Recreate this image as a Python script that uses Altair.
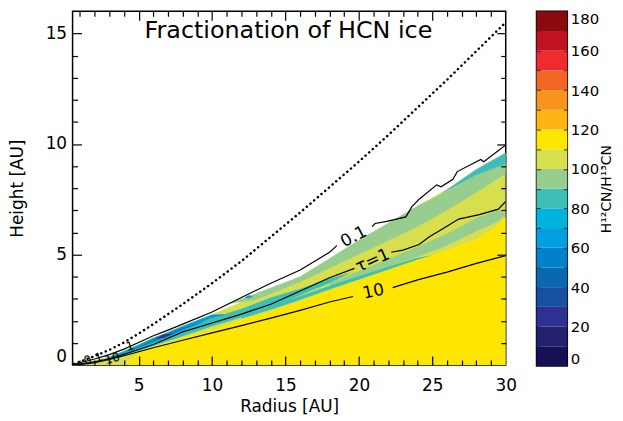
import altair as alt
import pandas as pd

# ---------------- data (radius / height in AU) ----------------
R_TOP = [0.6, 1, 2, 3, 4, 5, 6, 7, 8, 10, 12, 14, 16, 18, 20, 22, 24, 26, 28, 30]
H_TOP = [0.03, 0.08, 0.22, 0.4, 0.65, 0.95, 1.25, 1.5, 1.78, 2.3, 2.85, 3.45, 4.0, 4.8, 5.65, 6.4, 7.2, 7.95, 8.85, 9.6]

R_YEL = [3.9, 4.3, 5, 6, 7, 8, 10, 12, 14, 16, 18, 20, 22, 24, 26, 28, 29, 30]
H_YEL = [0, 0.2, 0.55, 0.8, 1.0, 1.25, 1.6, 2.05, 2.45, 2.9, 3.4, 3.85, 4.3, 4.75, 5.2, 5.7, 6.1, 6.7]

R_GRN = [11, 13, 16, 20, 24, 26, 28, 30]
LO_GRN = [2.75, 2.95, 3.75, 5.0, 6.25, 7.0, 7.8, 8.65]
HI_GRN = [2.75, 3.25, 4.0, 5.65, 7.2, 7.85, 8.6, 9.15]

R_TEAL_TOP = [25.5, 28, 30]
LO_TEAL_TOP = [7.7, 8.6, 9.1]
HI_TEAL_TOP = [7.7, 8.85, 9.6]

R_TEAL_MID = [3.5, 5, 8, 10, 12, 14, 16, 18, 19.5]
LO_TEAL_MID = [0.38, 0.65, 1.3, 1.75, 2.15, 2.6, 3.15, 3.7, 4.2]
HI_TEAL_MID = [0.4, 0.8, 1.56, 2.13, 2.55, 3.05, 3.45, 3.9, 4.2]

R_GRN_LOW = [18, 20, 22, 24, 26, 28, 29.5, 30]
LO_GRN_LOW = [3.55, 4.0, 4.45, 4.9, 5.4, 6.05, 6.5, 6.8]
HI_GRN_LOW = [3.7, 4.25, 4.8, 5.35, 5.95, 6.65, 7.0, 6.85]

R_TEAL_LOW = [12, 14, 16, 18, 20, 22, 24, 25]
LO_TEAL_LOW = [2.1, 2.5, 2.95, 3.42, 3.87, 4.32, 4.77, 4.95]
HI_TEAL_LOW = [2.2, 2.65, 3.12, 3.58, 4.02, 4.45, 4.85, 4.95]

R_CYAN = [2.5, 3, 4, 5, 6, 7, 8, 9, 10, 10.8]
LO_CYAN = [0.2, 0.28, 0.5, 0.76, 1.02, 1.28, 1.56, 1.84, 2.13, 2.25]
HI_CYAN = [0.2, 0.36, 0.62, 0.92, 1.22, 1.48, 1.76, 2.02, 2.28, 2.3]

R_BLUE = [4.5, 6, 8, 9.5]
LO_BLUE = [0.65, 1.05, 1.6, 1.95]
HI_BLUE = [0.65, 1.15, 1.7, 1.95]

R_PURP = [6.1, 6.7, 7.4]
LO_PURP = [1.2, 1.22, 1.42]
HI_PURP = [1.2, 1.38, 1.42]

R_SPOT = [12.2, 12.5, 12.8]
LO_SPOT = [3.05, 3.02, 3.1]
HI_SPOT = [3.05, 3.15, 3.1]

R_C01_A = [0.6, 1, 2, 3, 4, 5, 6, 7, 8, 10, 12, 14, 16, 18, 18.5]
H_C01_A = [0.03, 0.1, 0.27, 0.47, 0.72, 1.02, 1.32, 1.58, 1.85, 2.4, 3.05, 3.7, 4.3, 5.1, 5.4]
R_C01_B = [20.9, 21.1, 21.9, 23.2, 23.6, 24.1, 25.3, 25.6, 26.4, 26.7, 28.3, 28.5, 30]
H_C01_B = [6.26, 6.4, 6.5, 6.7, 7.15, 7.5, 8.15, 8.06, 8.4, 8.75, 9.3, 9.2, 9.95]

R_TAU_A = [0.6, 1, 2, 3, 4, 5, 6, 8, 10, 12, 14, 16, 18, 19.7]
H_TAU_A = [0.0, 0.04, 0.14, 0.28, 0.48, 0.7, 0.93, 1.5, 1.9, 2.3, 2.75, 3.35, 3.95, 4.37]
R_TAU_B = [22.2, 23, 24.1, 24.8, 25.8, 26.8, 28.2, 29.5, 30]
H_TAU_B = [5.1, 5.2, 5.45, 5.8, 6.2, 6.6, 6.8, 7.05, 7.4]

R_C10_A = [0.6, 1, 2, 3, 4, 5, 6, 8, 10, 12, 14, 16, 18, 19.6]
H_C10_A = [0.0, 0.02, 0.1, 0.25, 0.42, 0.6, 0.78, 1.12, 1.45, 1.78, 2.12, 2.47, 2.85, 3.1]
R_C10_B = [22.3, 24, 26, 28, 30]
H_C10_B = [3.5, 3.85, 4.2, 4.6, 4.95]

R_DOT = [0.6, 1, 2, 3, 4, 5, 6, 7, 8, 10, 12, 14, 16, 18, 20, 22, 24, 26, 28, 30]
H_DOT = [0.05, 0.15, 0.4, 0.68, 1.02, 1.42, 1.85, 2.3, 2.75, 3.7, 4.7, 5.8, 6.9, 8.05, 9.2, 10.4, 11.65, 12.9, 14.2, 15.5]

BIG_LBL = ["0.1", "τ=1", "10"]
BIG_R = [19.65, 20.95, 21.0]
BIG_H = [5.8, 4.72, 3.32]
BIG_ANG = [332, 336, 348]
SMALL_LBL = ["0.1", "10", "1"]
SMALL_R = [1.9, 3.2, 4.4]
SMALL_H = [0.28, 0.3, 0.85]
SMALL_ANG = [345, 345, 345]

TITLE = ["Fractionation of HCN ice"]
TITLE_R = [15.2]
TITLE_H = [15.1]

CB_LO = list(range(0, 180, 10))
CB_HI = list(range(10, 190, 10))
CB_COLORS = ["#150f53", "#232070", "#2e3192", "#1750a0", "#0868b0", "#0082c8",
             "#00a0e0", "#00b3dd", "#3dbfb8", "#97cd8f", "#d7df4f", "#ffe600",
             "#fdb515", "#f7941d", "#f26522", "#ef2b2d", "#c1121f", "#8b0a0f"]
CB_TICKS = list(range(0, 181, 20))

X_MAJOR = [5, 10, 15, 20, 25, 30]
Y_MAJOR = [0, 5, 10, 15]

# ---------------- chart ----------------
FONT = "DejaVu Sans"
W, H = 436, 356
CBW, CBH = 31, 357

xs = alt.Scale(domain=[0.5, 30], nice=False, zero=False)
ys = alt.Scale(domain=[0, 16], nice=False, zero=False)

TICK_SIZE = {"condition": {"test": "datum.value % 5 === 0", "value": 9}, "value": 5}


def tick_axis(orient, offset, values):
    return alt.Axis(orient=orient, offset=offset, values=values, labels=False,
                    domain=False, grid=False, title=None, tickSize=TICK_SIZE,
                    tickColor="black", tickWidth=1.2, zindex=1)


def band(r, lo, hi, color, xaxis=None, yaxis=None):
    df = pd.DataFrame({"r": r, "lo": lo, "hi": hi})
    return alt.Chart(df).mark_area(color=color, clip=True).encode(
        x=alt.X("r:Q", scale=xs, axis=xaxis),
        y=alt.Y("lo:Q", scale=ys, axis=yaxis),
        y2="hi:Q",
    )


def line(segs, xaxis=None, yaxis=None, **kw):
    frames = []
    for i, (r, h) in enumerate(segs):
        frames.append(pd.DataFrame({"r": r, "h": h, "seg": i}))
    df = pd.concat(frames, ignore_index=True)
    return alt.Chart(df).mark_line(clip=True, **kw).encode(
        x=alt.X("r:Q", scale=xs, axis=xaxis),
        y=alt.Y("h:Q", scale=ys, axis=yaxis),
        detail="seg:N",
        order="r:Q",
    )


x_lab_axis = alt.Axis(values=X_MAJOR, ticks=False, tickSize=0, domain=False, grid=False,
                      labelFontSize=17, labelPadding=13, labelFlush=False, labelColor="black",
                      title="Radius [AU]", titleFontSize=17, titleFontWeight="normal",
                      titleColor="black", titlePadding=5)
y_lab_axis = alt.Axis(values=Y_MAJOR, ticks=False, tickSize=0, domain=False, grid=False,
                      labelFontSize=17, labelPadding=6, labelFlush=True, labelColor="black",
                      title="Height [AU]", titleFontSize=17, titleFontWeight="normal",
                      titleColor="black", titleX=-46)

zeros = [0] * len(R_TOP)
yel_zero = [0] * len(R_YEL)

layers = [
    band(R_TOP, zeros, H_TOP, "#d7df4f", x_lab_axis, y_lab_axis),
    band(R_YEL, yel_zero, H_YEL, "#ffe600"),
    band(R_GRN, LO_GRN, HI_GRN, "#97cd8f"),
    band(R_TEAL_TOP, LO_TEAL_TOP, HI_TEAL_TOP, "#3dbfb8"),
    band(R_TEAL_MID, LO_TEAL_MID, HI_TEAL_MID, "#3dbfb8"),
    band(R_GRN_LOW, LO_GRN_LOW, HI_GRN_LOW, "#97cd8f"),
    band(R_TEAL_LOW, LO_TEAL_LOW, HI_TEAL_LOW, "#3dbfb8"),
    band(R_CYAN, LO_CYAN, HI_CYAN, "#00a0e0"),
    band(R_BLUE, LO_BLUE, HI_BLUE, "#0082c8"),
    band(R_PURP, LO_PURP, HI_PURP, "#2e3192"),
    band(R_SPOT, LO_SPOT, HI_SPOT, "#00a0e0"),
    line([(R_DOT, H_DOT)], strokeDash=[0.1, 4.8], strokeCap="round", strokeWidth=2.5, color="black"),
    line([(R_C01_A, H_C01_A), (R_C01_B, H_C01_B)],
         tick_axis("top", -H, list(range(1, 30))), tick_axis("right", -W, list(range(1, 16))),
         color="black", strokeWidth=1.2),
    line([(R_TAU_A, H_TAU_A), (R_TAU_B, H_TAU_B)],
         tick_axis("bottom", -H, list(range(1, 30))), tick_axis("left", -W, list(range(1, 16))),
         color="black", strokeWidth=1.2),
    line([(R_C10_A, H_C10_A), (R_C10_B, H_C10_B)], color="black", strokeWidth=1.2),
]

big_df = pd.DataFrame({"r": BIG_R, "h": BIG_H, "t": BIG_LBL, "a": BIG_ANG})
small_df = pd.DataFrame({"r": SMALL_R, "h": SMALL_H, "t": SMALL_LBL, "a": SMALL_ANG})
title_df = pd.DataFrame({"r": TITLE_R, "h": TITLE_H, "t": TITLE})


def text_layer(df, size, with_angle=True):
    enc = dict(
        x=alt.X("r:Q", scale=xs, axis=None),
        y=alt.Y("h:Q", scale=ys, axis=None),
        text="t:N",
    )
    if with_angle:
        enc["angle"] = alt.Angle("a:Q", scale=None)
    return alt.Chart(df).mark_text(fontSize=size, color="black", align="center",
                                   baseline="middle", font=FONT).encode(**enc)


layers += [text_layer(big_df, 17), text_layer(small_df, 12), text_layer(title_df, 24, False)]

main = alt.layer(*layers).resolve_axis(x="independent", y="independent").properties(
    width=W, height=H)

cb_df = pd.DataFrame({"lo": CB_LO, "hi": CB_HI, "col": CB_COLORS})
cb_scale = alt.Scale(domain=[0, 180], nice=False)
cb_x = alt.Scale(domain=[0, 1], nice=False)
cb_axis = alt.Axis(orient="right", values=CB_TICKS, ticks=False, tickSize=0, domain=False,
                   grid=False, labelFontSize=15, labelPadding=3, labelFlush=True,
                   labelColor="black", title="H¹²CN/H¹³CN", titleFontSize=14,
                   titleFontWeight="normal", titleColor="black", titleAngle=270,
                   titleBaseline="top", titlePadding=1)


def cb_tick_axis(orient):
    return alt.Axis(orient=orient, offset=-CBW, values=list(range(10, 180, 10)), labels=False,
                    domain=False, grid=False, title=None, tickSize=4, tickColor="#333333",
                    tickWidth=1, zindex=1)


def cb_layer(axis, opacity):
    return alt.Chart(cb_df).mark_rect(opacity=opacity).encode(
        x=alt.X(datum=0, scale=cb_x, axis=None),
        x2=alt.X2(datum=1),
        y=alt.Y("lo:Q", scale=cb_scale, axis=axis),
        y2="hi:Q",
        color=alt.Color("col:N", scale=None),
    )


cbar = alt.layer(cb_layer(cb_axis, 1), cb_layer(cb_tick_axis("left"), 0),
                 cb_layer(cb_tick_axis("right"), 0)).resolve_axis(y="independent").properties(
    width=CBW, height=CBH)

chart = alt.hconcat(main, cbar, spacing=31, bounds="flush").properties(
    padding={"left": 0, "top": 0, "right": 0, "bottom": 0}
).configure(font=FONT).configure_view(stroke="black", strokeWidth=1.5)

chart.save("out.html", embed_options={"renderer": "svg", "actions": False})
